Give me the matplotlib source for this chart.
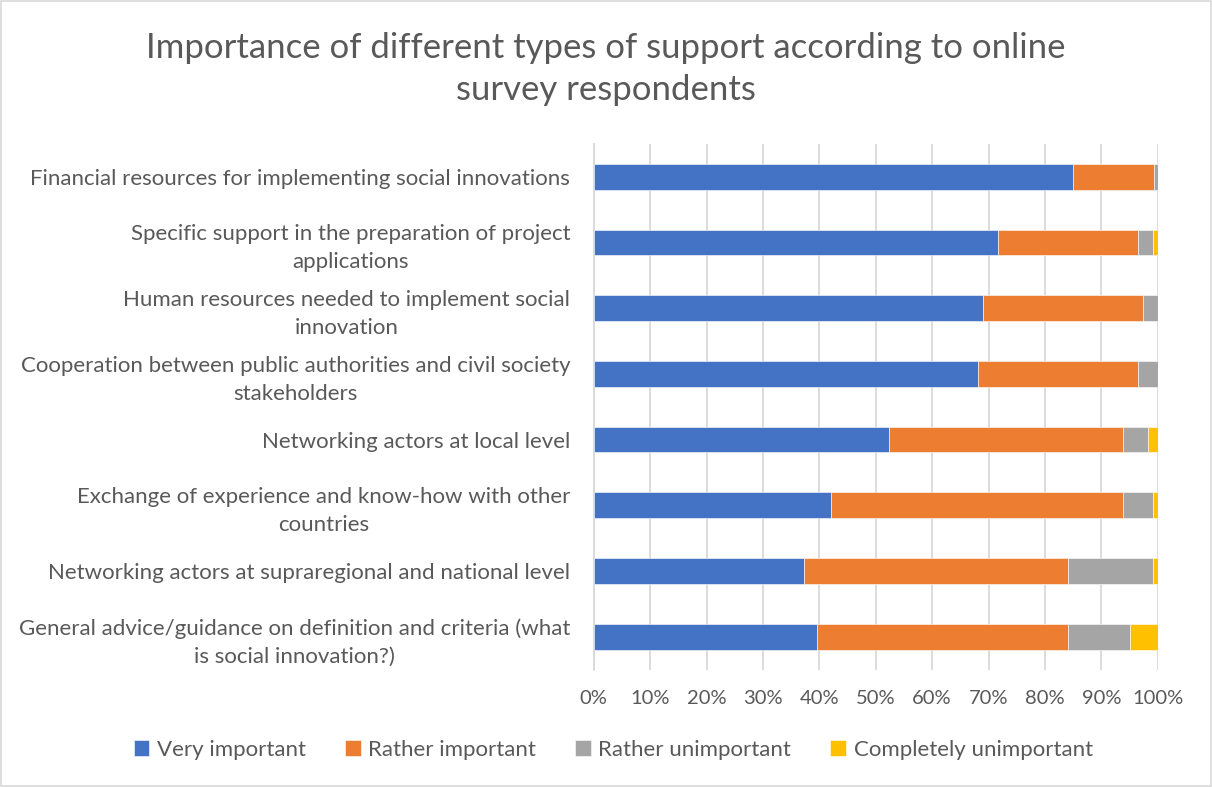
import matplotlib.pyplot as plt
import numpy as np
from matplotlib.patches import Rectangle

# support types, top to bottom
categories = [
    "Financial resources for implementing social innovations",
    "Specific support in the preparation of project\napplications",
    "Human resources needed to implement social\ninnovation",
    "Cooperation between public authorities and civil society\nstakeholders",
    "Networking actors at local level",
    "Exchange of experience and know-how with other\ncountries",
    "Networking actors at supraregional and national level",
    "General advice/guidance on definition and criteria (what\nis social innovation?)",
]

# shares in percent
very_important = [85.0, 71.7, 69.0, 68.1, 52.3, 42.1, 37.2, 39.6]
rather_important = [14.3, 24.8, 28.4, 28.4, 41.6, 51.8, 46.9, 44.5]
rather_unimportant = [0.7, 2.7, 2.6, 3.5, 4.4, 5.3, 15.1, 11.0]
completely_unimportant = [0.0, 0.8, 0.0, 0.0, 1.7, 0.8, 0.8, 4.9]

series = [
    ("Very important", very_important, "#4472C4"),
    ("Rather important", rather_important, "#ED7D31"),
    ("Rather unimportant", rather_unimportant, "#A5A5A5"),
    ("Completely unimportant", completely_unimportant, "#FFC000"),
]

plt.rcParams['font.family'] = ['Lato', 'DejaVu Sans']
text_col = "#595959"

fig = plt.figure(figsize=(12.12, 7.87), dpi=100)
ax = fig.add_axes([0.4899, 0.1492, 0.4653, 0.668])

y = np.arange(len(categories))
left = np.zeros(len(categories))
for name, vals, col in series:
    ax.barh(y, vals, left=left, height=0.39, color=col, label=name,
            edgecolor="white", linewidth=0.4, zorder=3)
    left = left + np.array(vals)

ax.set_xlim(0, 100)
ax.set_ylim(len(categories) - 0.5, -0.5)
ax.set_xticks(np.arange(0, 101, 10))
ax.set_xticklabels([f"{v}%" for v in range(0, 101, 10)])
ax.set_yticks(y)
ax.set_yticklabels(categories)
for lab in ax.get_yticklabels():
    lab.set_multialignment('center')
    lab.set_linespacing(1.5)
ax.tick_params(axis='y', length=0, pad=17, labelsize=16, labelcolor=text_col)
ax.tick_params(axis='x', length=0, pad=15, labelsize=14.5, labelcolor=text_col)
ax.grid(axis='x', color="#D9D9D9", linewidth=1.3, zorder=0)
for s in ["top", "right", "bottom"]:
    ax.spines[s].set_visible(False)
ax.spines["left"].set_color("#D9D9D9")
ax.spines["left"].set_linewidth(1.3)

fig.text(0.5, 0.912, "Importance of different types of support according to online\nsurvey respondents",
         ha='center', va='center', fontsize=25, color=text_col,
         linespacing=1.4)

fig.legend(loc='center', bbox_to_anchor=(0.506, 0.047), ncol=4, frameon=False,
           fontsize=16, labelcolor=text_col, handlelength=0.7, handleheight=0.7,
           handletextpad=0.35, columnspacing=1.75)

# chart border
fig.patches.append(Rectangle((0.001, 0.001), 0.998, 0.998, transform=fig.transFigure,
                             fill=False, edgecolor="#D9D9D9", linewidth=1.2))

plt.savefig("out.png", dpi=100)
